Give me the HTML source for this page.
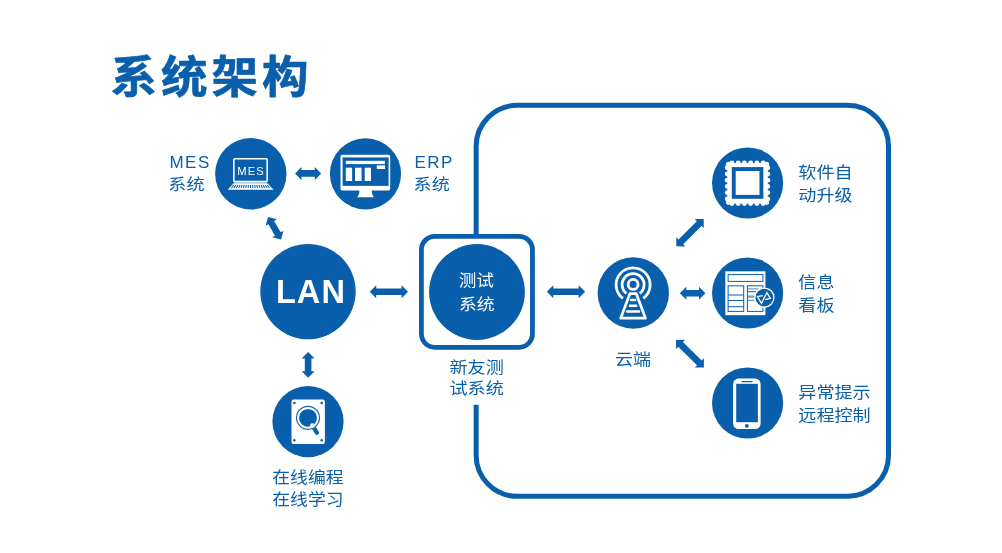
<!DOCTYPE html>
<html lang="zh-CN"><head><meta charset="utf-8"><title>系统架构</title>
<style>
html,body{margin:0;padding:0;background:#fff;}
body{width:1002px;height:553px;overflow:hidden;position:relative;font-family:"Liberation Sans","Noto Sans CJK SC",sans-serif;}
svg{position:absolute;left:0;top:0;display:block;will-change:transform;}
.t{font-family:"Liberation Sans","Noto Sans CJK SC",sans-serif;font-size:17px;font-weight:400;letter-spacing:0px;fill:#095fab;}
.tl{font-family:"Liberation Sans",sans-serif;font-size:17px;font-weight:400;letter-spacing:1.5px;fill:#095fab;}
.w{fill:#fff;}
.title{font-family:"Liberation Sans","Noto Sans CJK SC",sans-serif;font-weight:700;font-size:46.5px;letter-spacing:4px;fill:#095fab;stroke:#095fab;stroke-width:0.7px;stroke-linejoin:round;}
.lan{font-family:"Liberation Sans",sans-serif;font-weight:700;font-size:32.5px;letter-spacing:1.1px;fill:#fff;}
.mes{font-family:"Liberation Sans",sans-serif;font-size:11.2px;letter-spacing:1.1px;fill:#fff;}
</style></head><body>
<svg width="1002" height="553" viewBox="0 0 1002 553">
<rect width="1002" height="553" fill="#fff"/>

<text class="title" transform="translate(110.4 93.3) scale(1 0.965)">系统架构</text>
<path d="M476.15 236 V146.35 A41.0 41.0 0 0 1 517.15 105.35 H847.5 A41.0 41.0 0 0 1 888.5 146.35 V455.3 A41.0 41.0 0 0 1 847.5 496.3 H517.15 A41.0 41.0 0 0 1 476.15 455.3 V404.8" fill="none" stroke="#095fab" stroke-width="5"/>
<rect x="421.4" y="236.35" width="111.05" height="110.95" rx="13.5" ry="13.5" fill="#fff" stroke="#095fab" stroke-width="4.8"/>
<g fill="#095fab">
<circle cx="250.8" cy="173.8" r="35.7"/>
<circle cx="365.5" cy="173.8" r="35.6"/>
<circle cx="308" cy="291.6" r="47.7"/>
<circle cx="477" cy="292" r="47.9"/>
<circle cx="633.3" cy="293" r="35.7"/>
<circle cx="747.6" cy="183" r="35.6"/>
<circle cx="747.6" cy="293" r="35.6"/>
<circle cx="747.6" cy="403" r="35.6"/>
<circle cx="308" cy="421.6" r="35.6"/>
<polygon points="-13.05,0.00 -6.65,-6.50 -6.65,-3.30 6.65,-3.30 6.65,-6.50 13.05,0.00 6.65,6.50 6.65,3.30 -6.65,3.30 -6.65,6.50" transform="translate(308.15 173.40) rotate(0.00)"/>
<polygon points="-13.00,0.00 -6.60,-6.50 -6.60,-3.30 6.60,-3.30 6.60,-6.50 13.00,0.00 6.60,6.50 6.60,3.30 -6.60,3.30 -6.60,6.50" transform="translate(274.55 228.30) rotate(60.00)"/>
<polygon points="-12.80,0.00 -6.40,-6.50 -6.40,-3.30 6.40,-3.30 6.40,-6.50 12.80,0.00 6.40,6.50 6.40,3.30 -6.40,3.30 -6.40,6.50" transform="translate(308.10 364.90) rotate(90.00)"/>
<polygon points="-19.10,0.00 -12.70,-6.50 -12.70,-3.30 12.70,-3.30 12.70,-6.50 19.10,0.00 12.70,6.50 12.70,3.30 -12.70,3.30 -12.70,6.50" transform="translate(388.90 291.75) rotate(0.00)"/>
<polygon points="-19.10,0.00 -12.70,-6.50 -12.70,-3.30 12.70,-3.30 12.70,-6.50 19.10,0.00 12.70,6.50 12.70,3.30 -12.70,3.30 -12.70,6.50" transform="translate(566.00 291.75) rotate(0.00)"/>
<polygon points="-19.30,0.00 -12.90,-6.50 -12.90,-3.30 12.90,-3.30 12.90,-6.50 19.30,0.00 12.90,6.50 12.90,3.30 -12.90,3.30 -12.90,6.50" transform="translate(690.00 232.70) rotate(-44.79)"/>
<polygon points="-12.75,0.00 -6.35,-6.50 -6.35,-3.30 6.35,-3.30 6.35,-6.50 12.75,0.00 6.35,6.50 6.35,3.30 -6.35,3.30 -6.35,6.50" transform="translate(692.65 293.30) rotate(0.00)"/>
<polygon points="-19.59,0.00 -13.19,-6.50 -13.19,-3.30 13.19,-3.30 13.19,-6.50 19.59,0.00 13.19,6.50 13.19,3.30 -13.19,3.30 -13.19,6.50" transform="translate(689.95 353.65) rotate(44.59)"/>
</g>
<g>
<rect x="233.85" y="158.65" width="33.3" height="22.9" rx="0.9" fill="none" stroke="#fff" stroke-width="1.55"/>
<polygon points="234.3,182.3 266.7,182.3 268.0,184.0 233.0,184.0" fill="#fff" fill-opacity="0.72"/>
<polygon points="233.1,183.8 267.9,183.8 273.5,189.85 227.7,189.85" fill="#fff"/>
<path d="M233.86 185.00 L231.49 187.90 M235.94 185.00 L233.86 187.90 M238.02 185.00 L236.24 187.90 M240.10 185.00 L238.62 187.90 M242.18 185.00 L240.99 187.90 M244.26 185.00 L243.37 187.90 M246.34 185.00 L245.75 187.90 M248.42 185.00 L248.12 187.90 M250.50 185.00 L250.50 187.90 M252.58 185.00 L252.88 187.90 M254.66 185.00 L255.25 187.90 M256.74 185.00 L257.63 187.90 M258.82 185.00 L260.01 187.90 M260.90 185.00 L262.38 187.90 M262.98 185.00 L264.76 187.90 M265.06 185.00 L267.14 187.90 M267.14 185.00 L269.51 187.90 " stroke="#095fab" stroke-width="1.05" fill="none"/>
<text class="mes" x="237.3" y="174.8">MES</text>
</g>
<g>
<rect x="340.5" y="154.8" width="49.7" height="35.6" rx="1.6" fill="#fff"/>
<rect x="342.6" y="157.45" width="46.0" height="28.4" fill="#095fab"/>
<rect x="345.8" y="160.8" width="39.2" height="3.3" fill="#fff"/>
<rect x="345.8" y="167.7" width="6.3" height="13.3" fill="#fff"/>
<rect x="355.0" y="167.7" width="6.6" height="13.3" fill="#fff"/>
<rect x="364.7" y="167.7" width="6.3" height="13.3" fill="#fff"/>
<rect x="376.8" y="165.4" width="8.2" height="3.6" fill="#fff"/>
<path d="M359.5 190 H371.7 Q372 195.6 374.1 197.3 H356.9 Q359.2 195.6 359.5 190 Z" fill="#fff"/>
</g>
<g fill="none" stroke="#fff" stroke-width="2.8">
<circle cx="633.1" cy="284.4" r="4.95"/>
<path d="M626.48 293.48 A11.00 11.00 0 1 1 639.72 293.48"/>
<path d="M622.87 298.38 A17.00 17.00 0 1 1 643.33 298.38"/>
<polygon points="629.9,293.7 636.3,293.7 645.5,318.15 620.7,318.15" stroke-width="2.7" stroke-linejoin="round"/>
<path d="M631.1 300.1 H635.1 M630.0 305.8 H636.2 M627.2 311.4 H639.0" stroke-width="2.5" stroke-linecap="round"/>
</g>
<g fill="#fff"><rect x="727.30" y="163.05" width="40.50" height="40.50"/><circle cx="731.95" cy="163.05" r="2.45"/><circle cx="731.95" cy="203.55" r="2.45"/><circle cx="727.30" cy="167.70" r="2.45"/><circle cx="767.80" cy="167.70" r="2.45"/><circle cx="738.19" cy="163.05" r="2.45"/><circle cx="738.19" cy="203.55" r="2.45"/><circle cx="727.30" cy="173.94" r="2.45"/><circle cx="767.80" cy="173.94" r="2.45"/><circle cx="744.43" cy="163.05" r="2.45"/><circle cx="744.43" cy="203.55" r="2.45"/><circle cx="727.30" cy="180.18" r="2.45"/><circle cx="767.80" cy="180.18" r="2.45"/><circle cx="750.67" cy="163.05" r="2.45"/><circle cx="750.67" cy="203.55" r="2.45"/><circle cx="727.30" cy="186.42" r="2.45"/><circle cx="767.80" cy="186.42" r="2.45"/><circle cx="756.91" cy="163.05" r="2.45"/><circle cx="756.91" cy="203.55" r="2.45"/><circle cx="727.30" cy="192.66" r="2.45"/><circle cx="767.80" cy="192.66" r="2.45"/><circle cx="763.15" cy="163.05" r="2.45"/><circle cx="763.15" cy="203.55" r="2.45"/><circle cx="727.30" cy="198.90" r="2.45"/><circle cx="767.80" cy="198.90" r="2.45"/><circle cx="728.40" cy="164.15" r="2.45"/><circle cx="728.40" cy="202.45" r="2.45"/><circle cx="766.70" cy="164.15" r="2.45"/><circle cx="766.70" cy="202.45" r="2.45"/></g>
<rect x="733.75" y="169.05" width="27.65" height="27.8" fill="#fff" stroke="#095fab" stroke-width="3.9"/>
<g>
<rect x="725.3" y="271.3" width="40.1" height="43.9" fill="#fff"/>
<g fill="none" stroke="#095fab" stroke-width="1">
<rect x="728.1" y="274.6" width="34.8" height="6.8"/>
<rect x="728.1" y="285.8" width="15.6" height="25.6"/>
<rect x="747.4" y="285.8" width="15.5" height="25.6"/>
<path d="M728.1 295.0 H743.7 M728.1 300.5 H743.7 M728.1 306.7 H743.7 M747.4 291.7 H756"/>
<path d="M748 288.9 H758.5 M748 300.3 H754.5" stroke-width="1.3" stroke-opacity="0.6"/>
<path d="M748 296.6 H754.5" stroke-width="2.2" stroke-opacity="0.6"/>
</g>
<circle cx="764.4" cy="297.55" r="9.55" fill="#095fab" stroke="#fff" stroke-width="1.25"/>
<path d="M762.8 295.65 L757.4 296.6 L761.45 303.3 L766.9 292.55 L770.35 298.35 L765.2 299.65" fill="none" stroke="#fff" stroke-width="1.3" stroke-linejoin="miter" stroke-linecap="butt"/>
</g>
<g>
<rect x="733.1" y="378.6" width="27.5" height="50.5" rx="5.5" fill="#fff"/>
<rect x="736.2" y="383.8" width="21.7" height="38.4" fill="#095fab"/>
<rect x="741.3" y="380.9" width="11.5" height="1.4" rx="0.7" fill="#095fab"/>
<circle cx="746.8" cy="425.9" r="1.9" fill="#095fab"/>
</g>
<g>
<rect x="291.5" y="399.5" width="33.4" height="44.6" rx="2.2" fill="#fff"/>
<circle cx="294.4" cy="403.0" r="1.25" fill="#095fab"/>
<circle cx="321.7" cy="403.0" r="1.25" fill="#095fab"/>
<circle cx="294.4" cy="440.2" r="1.25" fill="#095fab"/>
<circle cx="321.7" cy="440.2" r="1.25" fill="#095fab"/>
<circle cx="308" cy="417.85" r="12.05" fill="#095fab"/>
<circle cx="308" cy="417.85" r="9.95" fill="none" stroke="#fff" stroke-width="2.0"/>
<path d="M314.0 428.1 L316.9 432.7" stroke="#095fab" stroke-width="4.2" stroke-linecap="round"/>
<circle cx="312.4" cy="425.7" r="2.4" fill="#fff"/>
</g>
<text class="lan" x="275.9" y="303.0">LAN</text>
<text class="tl" x="169.4" y="168">MES</text>
<text class="t" transform="translate(168.30 189.90) scale(1.065 0.960)" text-anchor="start">系统</text>
<text class="tl" x="414.5" y="168">ERP</text>
<text class="t" transform="translate(413.60 189.90) scale(1.065 0.960)" text-anchor="start">系统</text>
<text class="t w" transform="translate(476.40 286.10) scale(1.020 0.960)" text-anchor="middle">测试</text>
<text class="t w" transform="translate(476.80 309.70) scale(1.050 0.960)" text-anchor="middle">系统</text>
<text class="t" transform="translate(476.60 372.90) scale(1.065 0.960)" text-anchor="middle">新友测</text>
<text class="t" transform="translate(476.60 394.40) scale(1.065 0.960)" text-anchor="middle">试系统</text>
<text class="t" transform="translate(633.00 364.50) scale(1.065 0.960)" text-anchor="middle">云端</text>
<text class="t" transform="translate(307.90 482.60) scale(1.050 0.960)" text-anchor="middle">在线编程</text>
<text class="t" transform="translate(307.90 504.50) scale(1.050 0.960)" text-anchor="middle">在线学习</text>
<text class="t" transform="translate(798.30 177.80) scale(1.065 0.960)" text-anchor="start">软件自</text>
<text class="t" transform="translate(798.30 200.80) scale(1.065 0.960)" text-anchor="start">动升级</text>
<text class="t" transform="translate(798.30 287.80) scale(1.065 0.960)" text-anchor="start">信息</text>
<text class="t" transform="translate(798.30 310.80) scale(1.065 0.960)" text-anchor="start">看板</text>
<text class="t" transform="translate(798.30 397.80) scale(1.065 0.960)" text-anchor="start">异常提示</text>
<text class="t" transform="translate(798.30 420.60) scale(1.065 0.960)" text-anchor="start">远程控制</text>
</svg>
</body></html>
